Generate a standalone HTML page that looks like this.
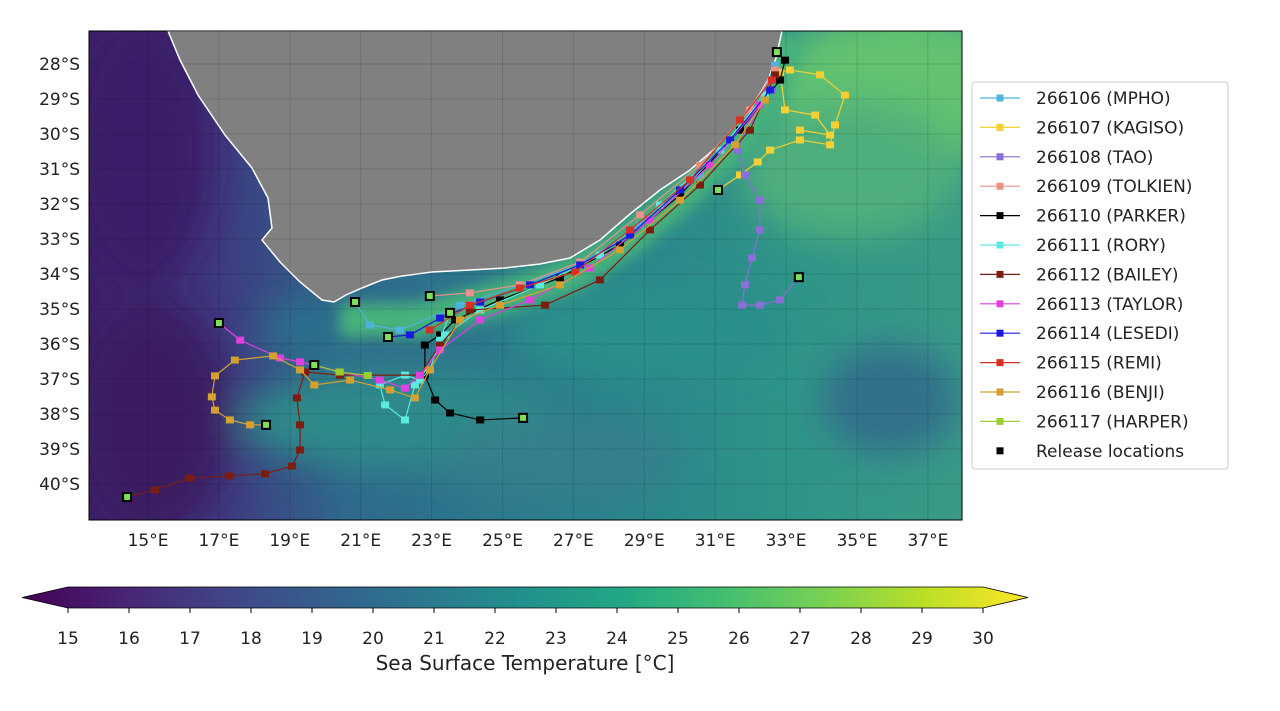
<!DOCTYPE html>
<html><head><meta charset="utf-8">
<style>
body{margin:0;background:#fff;width:1280px;height:706px;overflow:hidden;font-family:"Liberation Sans",sans-serif;}
svg text{font-family:"DejaVu Sans","Liberation Sans",sans-serif;}
</style></head>
<body>
<svg id="chart" width="1280" height="706">
<defs>
<filter id="blur" x="-50%" y="-50%" width="200%" height="200%"><feGaussianBlur stdDeviation="18"/></filter>
<filter id="blur2" x="-50%" y="-50%" width="200%" height="200%"><feGaussianBlur stdDeviation="7"/></filter>
<clipPath id="mapclip"><rect x="89" y="31" width="873" height="489"/></clipPath>
<linearGradient id="cbar" x1="0" x2="1" y1="0" y2="0">
<stop offset="0" stop-color="#440154"/><stop offset="0.1" stop-color="#482475"/><stop offset="0.2" stop-color="#414487"/>
<stop offset="0.3" stop-color="#355f8d"/><stop offset="0.4" stop-color="#2a788e"/><stop offset="0.5" stop-color="#21918c"/>
<stop offset="0.6" stop-color="#22a884"/><stop offset="0.7" stop-color="#44bf70"/><stop offset="0.8" stop-color="#7ad151"/>
<stop offset="0.9" stop-color="#bddf26"/><stop offset="1" stop-color="#fde725"/></linearGradient>
<linearGradient id="ocean" x1="0" x2="1" y1="0" y2="0">
<stop offset="0" stop-color="#3d1f6a"/><stop offset="0.15" stop-color="#3e3a80"/><stop offset="0.3" stop-color="#2f6a8c"/>
<stop offset="0.55" stop-color="#2a7f8c"/><stop offset="0.8" stop-color="#2f9488"/><stop offset="1" stop-color="#3a9a86"/></linearGradient>
</defs>
<g clip-path="url(#mapclip)">
<rect x="89" y="31" width="873" height="489" fill="url(#ocean)"/>
<g filter="url(#blur)">
<ellipse cx="150" cy="420" rx="80" ry="120" fill="#3a1c62"/>
<ellipse cx="140" cy="150" rx="70" ry="140" fill="#3b1f68"/>
<ellipse cx="900" cy="90" rx="130" ry="80" fill="#62c26f"/>
<ellipse cx="850" cy="170" rx="110" ry="70" fill="#4faf7c"/>
<ellipse cx="400" cy="420" rx="160" ry="50" fill="#2f8a8a"/>
<ellipse cx="650" cy="330" rx="140" ry="50" fill="#2c8f8a"/>
<ellipse cx="890" cy="400" rx="70" ry="55" fill="#31708c"/>
<ellipse cx="560" cy="460" rx="120" ry="40" fill="#357f8c"/>
<ellipse cx="320" cy="330" rx="60" ry="30" fill="#2a708c"/>
</g>
<polyline filter="url(#blur2)" points="340,320 420,320 500,298 570,275 630,238 690,188 740,135 770,90 790,40" fill="none" stroke="#47b27c" stroke-width="34"/>
<path d="M168,31 L180,60 L198,95 L225,135 L252,168 L268,198 L272,228 L262,240 L280,262 L300,282 L322,300 L334,302 L346,295 L362,288 L382,280 L402,276 L432,272 L470,270 L505,268 L540,264 L570,258 L600,240 L630,214 L660,190 L690,170 L718,146 L740,120 L756,100 L768,80 L776,58 L782,31 Z" fill="#808080" stroke="#fff" stroke-width="1.5"/>
<g id="grid"></g>
<g id="tracks"></g>
</g>
<rect x="89" y="31" width="873" height="489" fill="none" stroke="#000" stroke-width="1"/>
<g id="axes"></g>
<g id="legend">
<rect x="972" y="82" width="256" height="387" rx="3" fill="#fff" stroke="#ccc"/>
</g>
<g>
<polygon points="68,587 983,587 1028,597.5 983,608 68,608 22,597.5" fill="url(#cbar)" stroke="#000" stroke-width="0.8"/>
</g>
<g id="cbticks"></g>
<text x="525" y="670" font-size="20" text-anchor="middle" fill="#222">Sea Surface Temperature [°C]</text>
</svg>
<script>
const NS='http://www.w3.org/2000/svg';
const lonTicks=[15,17,19,21,23,25,27,29,31,33,35,37];
const latTicks=[28,29,30,31,32,33,34,35,36,37,38,39,40];
const cbTicks=[15,16,17,18,19,20,21,22,23,24,25,26,27,28,29,30];
const names=['266106 (MPHO)','266107 (KAGISO)','266108 (TAO)','266109 (TOLKIEN)','266110 (PARKER)','266111 (RORY)','266112 (BAILEY)','266113 (TAYLOR)','266114 (LESEDI)','266115 (REMI)','266116 (BENJI)','266117 (HARPER)'];
const colors=['#4fb3e0','#f5d033','#8a6fd8','#e8928a','#000000','#5de8e0','#7b1e10','#e040e0','#1a1ae0','#d83020','#d4a030','#9acd32'];
const lonMPHO=[20.84,21.26,22.11,23.8,25.49,27.19,28.88,30.57,31.98,32.69];
const latMPHO=[34.8,35.46,35.6,34.89,34.31,33.74,32.6,31.17,29.6,28.03];
const lonKAGISO=[31.08,31.7,32.2,32.55,33.39,34.24,34.38,34.66,33.96,33.11,32.83,32.97,33.82,34.24,33.39];
const latKAGISO=[31.6,31.17,30.8,30.46,30.17,30.31,29.74,28.89,28.31,28.17,28.23,29.31,29.46,30.03,29.89];
const lonTAO=[33.36,32.83,32.26,31.76,31.84,32.04,32.26,32.26,31.84,31.64,31.98,32.6];
const latTAO=[34.09,34.74,34.89,34.89,34.31,33.54,32.74,31.89,31.17,30.46,29.6,28.74];
const lonTOLKIEN=[22.95,24.08,25.49,27.19,28.88,30.57,31.98,32.69];
const latTOLKIEN=[34.63,34.54,34.31,33.66,32.31,30.89,29.31,28.17];
const lonPARKER=[25.58,24.37,23.52,23.1,22.81,22.81,23.24,23.66,24.93,26.62,28.31,30.01,31.7,32.83,32.97];
const latPARKER=[38.11,38.17,37.97,37.6,36.89,36.03,35.74,35.31,34.74,34.11,33.17,31.74,29.89,28.46,27.89];
const lonRORY=[23.52,23.24,22.95,22.53,22.25,21.69,21.54,22.25,22.67,23.38,24.37,26.06,27.75,29.44,31.14,32.4];
const latRORY=[35.11,35.89,36.74,37.17,38.17,37.74,37.17,36.89,37.03,35.74,35.03,34.31,33.46,32.03,30.46,28.89];
const lonBAILEY=[14.41,15.2,16.18,17.31,18.3,19.06,19.29,19.29,19.2,19.43,20.42,22.67,23.24,24.08,26.2,27.75,29.16,30.57,31.98,32.69];
const latBAILEY=[40.37,40.17,39.83,39.77,39.71,39.49,39.03,38.31,37.54,36.8,36.89,36.89,36.03,35.03,34.89,34.17,32.74,31.46,29.89,28.31];
const lonTAYLOR=[17.0,17.6,18.72,19.29,20.42,21.54,22.25,22.67,23.24,24.37,25.78,27.47,29.16,30.85,32.26];
const latTAYLOR=[35.4,35.89,36.4,36.51,36.8,37.03,37.26,36.89,36.17,35.31,34.74,33.83,32.46,30.89,29.17];
const lonLESEDI=[21.77,22.39,23.24,24.37,25.78,27.19,28.6,30.01,31.42,32.55];
const latLESEDI=[35.8,35.74,35.26,34.8,34.31,33.74,32.89,31.6,30.17,28.74];
const lonREMI=[22.95,24.08,25.49,27.05,28.6,30.29,31.7,32.6];
const latREMI=[35.6,34.89,34.4,33.94,32.74,31.31,29.6,28.46];
const lonBENJI=[18.33,17.88,17.31,16.89,16.8,16.89,17.45,18.53,19.29,19.69,20.7,21.83,22.53,22.95,23.8,24.93,26.62,28.31,30.01,31.56,32.4];
const latBENJI=[38.31,38.31,38.17,37.89,37.51,36.91,36.46,36.34,36.74,37.17,37.03,37.31,37.54,36.74,35.31,34.89,34.31,33.31,31.89,30.31,29.03];
const lonHARPER=[19.69,20.4,21.2];
const latHARPER=[36.6,36.8,36.9];
const lonRelease=[32.74,31.08,33.36,22.95,23.52,20.84,21.77,25.58,19.69,17.0,18.33,14.41];
const latRelease=[27.66,31.6,34.09,34.63,35.11,34.8,35.8,38.11,36.6,35.4,38.31,40.37];
const seriesLon=[lonMPHO,lonKAGISO,lonTAO,lonTOLKIEN,lonPARKER,lonRORY,lonBAILEY,lonTAYLOR,lonLESEDI,lonREMI,lonBENJI,lonHARPER];
const seriesLat=[latMPHO,latKAGISO,latTAO,latTOLKIEN,latPARKER,latRORY,latBAILEY,latTAYLOR,latLESEDI,latREMI,latBENJI,latHARPER];
const X=lon=>148+(lon-15)*35.45;
const Y=lat=>64+(lat-28)*35;
const CB=v=>68+(v-15)*(915/15);
function mk(tag,attrs,parent){const e=document.createElementNS(NS,tag);for(const k in attrs)e.setAttribute(k,attrs[k]);parent.appendChild(e);return e;}
const grid=document.getElementById('grid'),axes=document.getElementById('axes');
lonTicks.forEach(l=>{
 const g=mk('line',{x1:X(l),x2:X(l),y1:31,y2:520,stroke:'#000','stroke-opacity':0.12,'stroke-width':1},grid);
 
 
 const t=mk('text',{x:X(l),y:546,'font-size':17,'text-anchor':'middle',fill:'#222'},axes);t.textContent=l+'°E';
 
 
});
latTicks.forEach(l=>{
 const g=mk('line',{x1:89,x2:962,y1:Y(l),y2:Y(l),stroke:'#000','stroke-opacity':0.12,'stroke-width':1},grid);
 
 
 const t=mk('text',{x:80,y:Y(l)+6,'font-size':17,'text-anchor':'end',fill:'#222'},axes);t.textContent=l+'°S';
 
 
});
const tracks=document.getElementById('tracks');
seriesLon.forEach((lons,i)=>{
 const lats=seriesLat[i];
 const g=mk('g',{},tracks);
 
 
 mk('polyline',{points:lons.map((l,j)=>X(l)+','+Y(lats[j])).join(' '),fill:'none',stroke:colors[i],'stroke-width':1.2},g);
 lons.forEach((l,j)=>{
  const r=mk('rect',{x:X(l)-4,y:Y(lats[j])-3.5,width:8,height:7,fill:colors[i]},g);
  
  
 });
});
lonRelease.forEach((l,i)=>{
 const r=mk('rect',{x:X(l)-4,y:Y(latRelease[i])-4,width:8,height:8,fill:'#7ee05a',stroke:'#000','stroke-width':2},tracks);
 
 
});
const leg=document.getElementById('legend');
const labels=names.concat(['Release locations']);
labels.forEach((n,i)=>{
 const y=98+i*29.4;
 const g=mk('g',{},leg);
 
 
 if(i<12){mk('line',{x1:980,x2:1020,y1:y,y2:y,stroke:colors[i],'stroke-width':1.2},g);
  mk('rect',{x:996.5,y:y-3.5,width:7,height:7,fill:colors[i]},g);}
 else mk('rect',{x:996.5,y:y-3.5,width:7,height:7,fill:'#000'},g);
 const t=mk('text',{x:1036,y:y+6,'font-size':17,fill:'#222'},g);t.textContent=n;
});
const cbt=document.getElementById('cbticks');
cbTicks.forEach(v=>{
 const t=mk('text',{x:CB(v),y:644,'font-size':17,'text-anchor':'middle',fill:'#222'},cbt);t.textContent=v;
 
 
 mk('line',{x1:CB(v),x2:CB(v),y1:608,y2:613,stroke:'#000'},cbt);
});
</script>
</body></html>
